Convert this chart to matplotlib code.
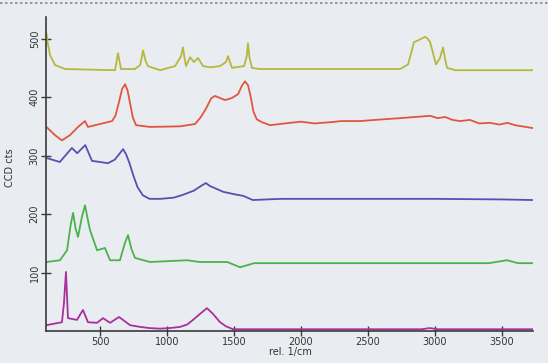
import matplotlib
matplotlib.use("Agg")
import matplotlib.pyplot as plt

# ---- data ----
yellow_x = [100, 112, 127, 164, 239, 612, 634, 657, 761, 800, 821, 840, 858, 948, 1060, 1105, 1119,
            1130, 1142, 1172, 1201, 1231, 1269, 1321, 1396, 1440, 1455, 1470, 1485, 1575, 1595, 1604,
            1615, 1634, 1694, 2739, 2799, 2825, 2843, 2873, 2900, 2925, 2945, 2963, 2985, 3007, 3037,
            3060, 3075, 3090, 3149, 3731]
yellow_y = [509, 490, 472, 455, 448, 446, 475, 448, 448, 455, 480, 462, 453, 446, 453, 470, 485,
            468, 453, 468, 460, 467, 453, 451, 453, 460, 470, 460, 450, 453, 470, 492,
            468, 450, 448, 448, 456, 478, 494, 497, 500, 503, 500, 494, 475, 456, 467,
            485, 465, 450, 446, 446]

red_x = [100, 164, 216, 276, 336, 388, 410, 500, 590, 615, 640, 665, 687, 705, 724, 745, 769,
         873, 1097, 1209, 1250, 1290, 1330, 1358, 1400, 1433, 1480, 1530, 1560, 1582, 1605, 1625,
         1645, 1670, 1709, 1769, 1918, 2000, 2100, 2216, 2300, 2440, 2550, 2739, 2850, 2963,
         3020, 3075, 3130, 3187, 3260, 3330, 3410, 3480, 3540, 3597, 3650, 3731]
red_y = [349, 335, 326, 335, 349, 359, 349, 354, 359, 368, 390, 414, 422, 412, 390, 365, 352,
         349, 350, 354, 365, 380, 398, 402, 398, 395, 398, 405, 420, 427, 420, 400,
         375, 362, 357, 352, 356, 358, 355, 357, 359, 359, 361, 364, 366, 368,
         364, 366, 361, 359, 361, 355, 356, 353, 356, 352, 350, 347]

blue_x = [100, 200, 290, 330, 390, 440, 560, 610, 645, 672, 695, 720, 750, 780, 820, 870, 950,
          1050, 1120, 1200, 1260, 1290, 1320, 1420, 1500, 1570, 1610, 1640, 1850, 2500, 3000,
          3500, 3731]
blue_y = [296, 289, 313, 304, 318, 291, 287, 293, 303, 311, 302, 287, 265, 246, 232, 226, 226,
          228, 233, 240, 249, 253, 248, 238, 234, 231, 227, 224, 226, 226, 226,
          225, 224]

green_x = [100, 201, 254, 280, 299, 318, 336, 365, 388, 405, 425, 478, 537, 575, 649, 685, 709,
           735, 761, 873, 1149, 1246, 1450, 1545, 1650, 2500, 3400, 3537, 3620, 3731]
green_y = [118, 121, 138, 180, 202, 175, 161, 195, 215, 195, 173, 138, 142, 121, 121, 150, 164,
           140, 125, 118, 121, 118, 118, 109, 116, 116, 116, 121, 116, 116]

magenta_x = [100, 216, 231, 246, 261, 328, 373, 410, 478, 522, 575, 642, 724, 799, 870, 948,
             1020, 1097, 1150, 1194, 1250, 1298, 1340, 1396, 1440, 1493, 2500, 2900, 2960, 3020,
             3731]
magenta_y = [10, 15, 48, 101, 22, 19, 36, 15, 14, 22, 14, 24, 10, 7, 5, 4,
             5, 7, 11, 19, 30, 39, 30, 15, 8, 3, 3, 3, 5, 3,
             3]

x_ticks = [500, 1000, 1500, 2000, 2500, 3000, 3500]
y_ticks = [100, 200, 300, 400, 500]

# ---- figure ----
bg = "#e9edf1"
fig = plt.figure(figsize=(5.48, 3.63), dpi=100, facecolor=bg)
ax = fig.add_axes([46 / 548, 1 - 331 / 363, 487 / 548, (331 - 17) / 363])
ax.set_facecolor(bg)

lw = 1.3
ax.plot(yellow_x, yellow_y, color="#b6b83c", lw=lw)
ax.plot(red_x, red_y, color="#e2553f", lw=lw)
ax.plot(blue_x, blue_y, color="#5a4fb0", lw=lw)
ax.plot(green_x, green_y, color="#4cb24c", lw=lw)
ax.plot(magenta_x, magenta_y, color="#a8309a", lw=lw)

ax.set_xlim(97, 3731)
ax.set_ylim(0, 537)
ax.spines["top"].set_visible(False)
ax.spines["right"].set_visible(False)
for s in ("left", "bottom"):
    ax.spines[s].set_color("#3a3a3a")
    ax.spines[s].set_linewidth(1.2)

ax.set_xticks(x_ticks)
ax.set_yticks(y_ticks)
ax.set_xticklabels([str(v) for v in x_ticks])
ax.set_yticklabels([str(v) for v in y_ticks], rotation=90, va="center")
ax.tick_params(direction="inout", length=7, width=1.0, color="#3a3a3a",
               labelsize=7, labelcolor="#333333", pad=1)

fig.text(290 / 548, 1 - 352 / 363, "rel. 1/cm", fontsize=7, color="#333333",
         ha="center", va="center")
fig.text(10 / 548, 1 - 168 / 363, "CCD cts", fontsize=7, color="#333333",
         ha="center", va="center", rotation=90)

# dotted frame line at top
fig.add_artist(plt.Line2D([0, 1], [1 - 3 / 363, 1 - 3 / 363], transform=fig.transFigure,
                          color="#888888", lw=1.2, linestyle=(0, (1.5, 1.5))))

fig.savefig("out.png", dpi=100, facecolor=bg)
